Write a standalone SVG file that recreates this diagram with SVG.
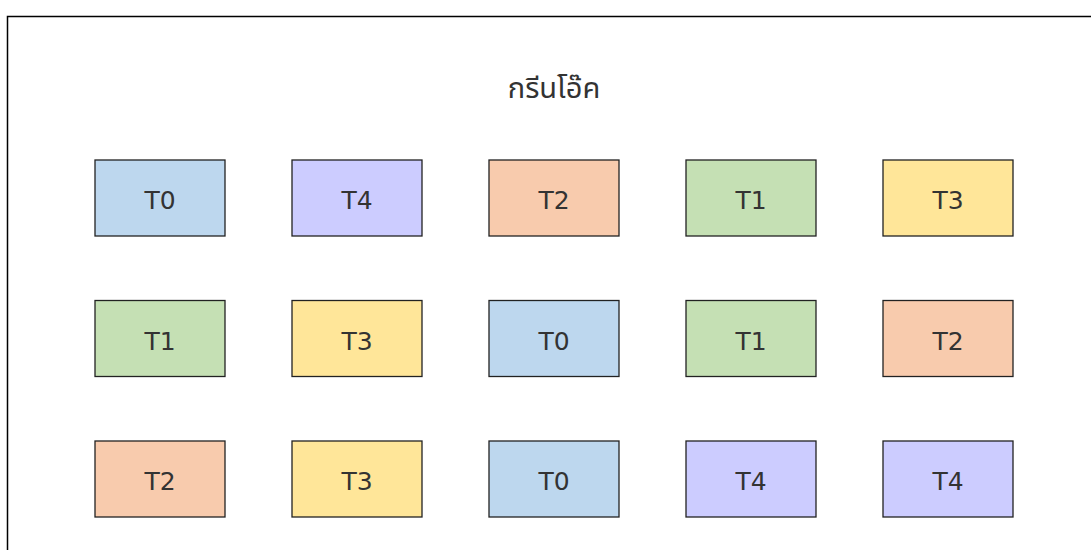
<svg xmlns="http://www.w3.org/2000/svg" width="1091" height="550" viewBox="0 0 1091 550">
<style>
.b{stroke:#222;stroke-width:1.3}
.t{font-family:"DejaVu Sans","Noto Sans",sans-serif;font-size:25px;fill:#333;text-anchor:middle}
.c0{fill:#BDD7EE}.c1{fill:#C5E0B4}.c2{fill:#F8CBAD}.c3{fill:#FFE699}.c4{fill:#CCCCFF}
</style>
<rect width="1091" height="550" fill="#fff"/>
<rect x="7.5" y="16.5" width="1100" height="600" fill="none" stroke="#000" stroke-width="1.5"/>
<text x="554" y="98" font-family="Tahoma,'Noto Sans Thai','DejaVu Sans',sans-serif" font-size="29" fill="#333" text-anchor="middle">กรีนโอ๊ค</text>
<g id="n1"><rect class="b c0" x="95" y="160" width="130" height="76"/><text class="t" x="160" y="209">T0</text></g>
<g id="n2"><rect class="b c4" x="292" y="160" width="130" height="76"/><text class="t" x="357" y="209">T4</text></g>
<g id="n3"><rect class="b c2" x="489" y="160" width="130" height="76"/><text class="t" x="554" y="209">T2</text></g>
<g id="n4"><rect class="b c1" x="686" y="160" width="130" height="76"/><text class="t" x="751" y="209">T1</text></g>
<g id="n5"><rect class="b c3" x="883" y="160" width="130" height="76"/><text class="t" x="948" y="209">T3</text></g>
<g id="n6"><rect class="b c1" x="95" y="300.5" width="130" height="76"/><text class="t" x="160" y="349.5">T1</text></g>
<g id="n7"><rect class="b c3" x="292" y="300.5" width="130" height="76"/><text class="t" x="357" y="349.5">T3</text></g>
<g id="n8"><rect class="b c0" x="489" y="300.5" width="130" height="76"/><text class="t" x="554" y="349.5">T0</text></g>
<g id="n9"><rect class="b c1" x="686" y="300.5" width="130" height="76"/><text class="t" x="751" y="349.5">T1</text></g>
<g id="n10"><rect class="b c2" x="883" y="300.5" width="130" height="76"/><text class="t" x="948" y="349.5">T2</text></g>
<g id="n11"><rect class="b c2" x="95" y="441" width="130" height="76"/><text class="t" x="160" y="490">T2</text></g>
<g id="n12"><rect class="b c3" x="292" y="441" width="130" height="76"/><text class="t" x="357" y="490">T3</text></g>
<g id="n13"><rect class="b c0" x="489" y="441" width="130" height="76"/><text class="t" x="554" y="490">T0</text></g>
<g id="n14"><rect class="b c4" x="686" y="441" width="130" height="76"/><text class="t" x="751" y="490">T4</text></g>
<g id="n15"><rect class="b c4" x="883" y="441" width="130" height="76"/><text class="t" x="948" y="490">T4</text></g>
<g id="connectors"></g>
</svg>
